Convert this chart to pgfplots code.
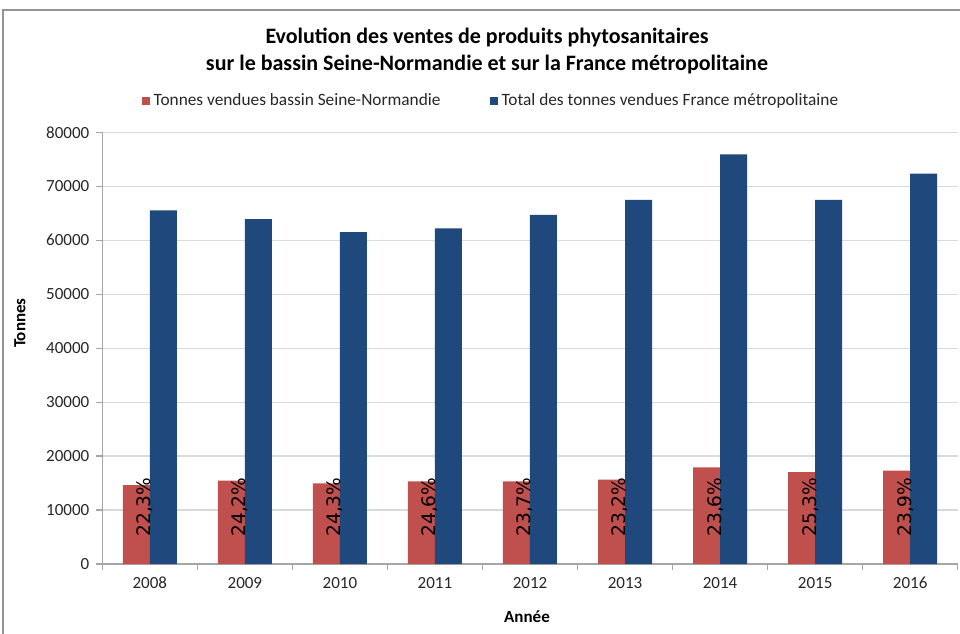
\documentclass[border=0pt]{standalone}
\usepackage{fontspec}
\setmainfont{Carlito}
\newfontfamily\dejavu{DejaVu Sans}
\usepackage{pgfplots}
\pgfplotsset{compat=1.18}
\definecolor{cred}{HTML}{C0504D}
\definecolor{cblue}{HTML}{1F497D}
\definecolor{gridc}{HTML}{D9D9D9}
\definecolor{axc}{HTML}{A6A6A6}
\begin{document}
\begin{tikzpicture}
\useasboundingbox (0pt,0pt) rectangle (480pt,-316.5pt);
\draw[color=gray!85, line width=0.6pt] (1.5pt,-400pt) -- (1.5pt,-5pt) -- (500pt,-5pt);
\begin{axis}[
  at={(51.15pt,-282pt)}, anchor=south west,
  width=427.7pt, height=215.85pt, scale only axis,
  xmin=-0.5, xmax=8.5, ymin=0, ymax=80000,
  axis x line*=bottom, axis y line*=left,
  axis line style={axc, line width=0.6pt},
  tick align=outside, major tick length=3pt,
  tick style={axc, line width=0.6pt},
  xtick={-0.5,0.5,...,8.5}, x tick label as interval,
  xticklabels={2008,2009,2010,2011,2012,2013,2014,2015,2016},
  ytick={0,10000,...,80000},
  scaled y ticks=false,
  yticklabel style={/pgf/number format/.cd, fixed, 1000 sep={}, assume math mode=true},
  ticklabel style={font=\fontsize{8.5}{10}\selectfont, text=black!85},
  ymajorgrids, major grid style={gridc, line width=0.6pt},
  title={Evolution des ventes de produits phytosanitaires\\sur le bassin Seine-Normandie et sur la France métropolitaine},
  title style={at={(axis description cs:0.4497,1.16)}, anchor=center, align=center, font=\bfseries\fontsize{11}{13.5}\selectfont},
  xlabel={Année},
  xlabel style={at={(axis description cs:0.4965,-0.1228)}, anchor=center, font=\bfseries\fontsize{8.5}{10}\selectfont},
  ylabel={Tonnes},
  ylabel style={at={(axis description cs:-0.0962,0.558)}, anchor=center, font=\bfseries\fontsize{8.5}{10}\selectfont},
  legend columns=2,
  legend style={at={(axis description cs:0.4555,1.0725)}, anchor=center, draw=none, fill=none,
    font=\fontsize{8.65}{10}\selectfont, text=black!85,
    /tikz/every even column/.append style={column sep=22.5pt}},
  legend image code/.code={\fill[#1] (0pt,-2pt) rectangle (4pt,2pt);},
]
\addplot[ybar, fill=cred, draw=none, bar width=13.5pt, bar shift=-6.75pt]
  coordinates {(0,14600) (1,15450) (2,14950) (3,15300) (4,15330) (5,15650) (6,17900) (7,17050) (8,17300)};
\addlegendentry{Tonnes vendues bassin Seine-Normandie}
\addplot[ybar, fill=cblue, draw=none, bar width=13.5pt, bar shift=6.75pt]
  coordinates {(0,65550) (1,63900) (2,61500) (3,62200) (4,64700) (5,67500) (6,75900) (7,67500) (8,72350)};
\addlegendentry{Total des tonnes vendues France métropolitaine}
\foreach \i/\t in {0/{22,3\%},1/{24,2\%},2/{24,3\%},3/{24,6\%},4/{23,7\%},5/{23,2\%},6/{23,6\%},7/{25,3\%},8/{23,9\%}}{
  \edef\temp{\noexpand\node[rotate=90, anchor=base west, inner sep=0pt, font=\noexpand\dejavu\noexpand\fontsize{9.3}{10}\noexpand\selectfont] at (axis cs:\i+0.01,5000) {\t};}
  \temp
}
\end{axis}
\end{tikzpicture}
\end{document}
